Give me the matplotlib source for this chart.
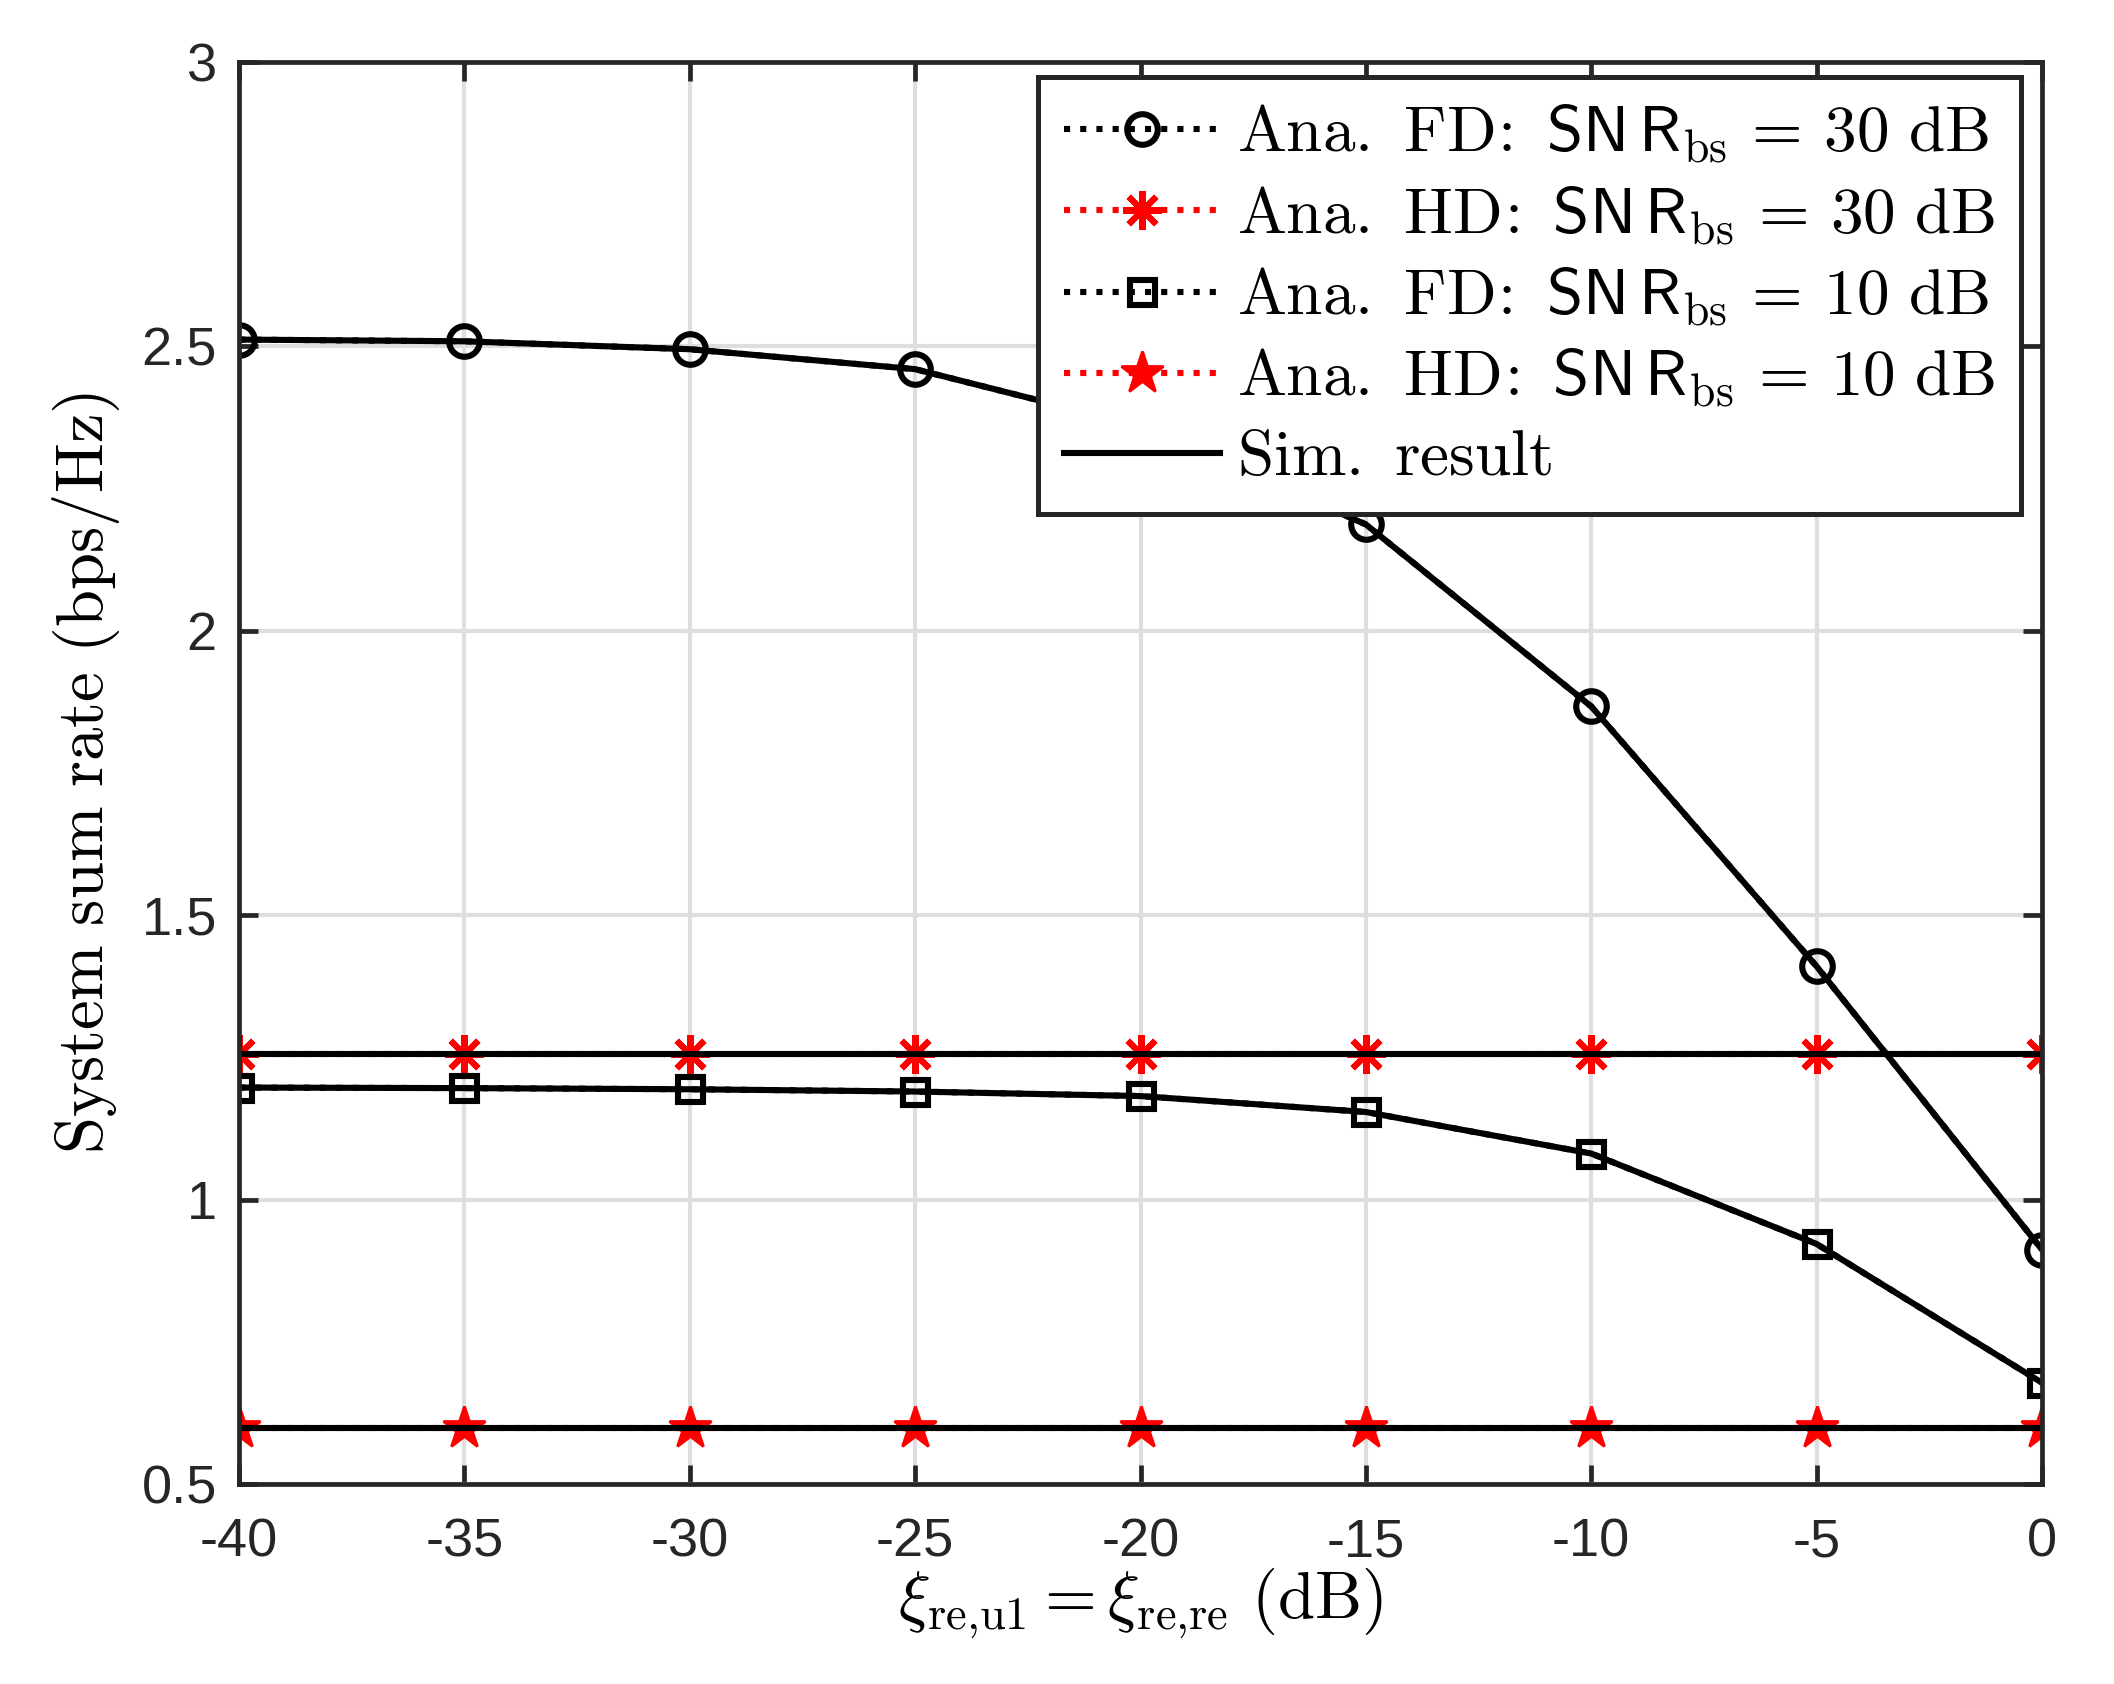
import matplotlib
matplotlib.use("Agg")
import matplotlib.pyplot as plt
import numpy as np

xi_db = [-40, -35, -30, -25, -20, -15, -10, -5, 0]
fd30_ana = [2.512, 2.509, 2.495, 2.460, 2.36, 2.187, 1.867, 1.410, 0.912]
hd30_ana = [1.256] * 9
fd10_ana = [1.197, 1.196, 1.194, 1.190, 1.182, 1.154, 1.081, 0.922, 0.678]
hd10_ana = [0.598] * 9
fd30_sim = [2.512, 2.509, 2.495, 2.460, 2.36, 2.187, 1.867, 1.410, 0.912]
hd30_sim = [1.256] * 9
fd10_sim = [1.197, 1.196, 1.194, 1.190, 1.182, 1.154, 1.081, 0.922, 0.678]
hd10_sim = [0.598] * 9

xticks = [-40, -35, -30, -25, -20, -15, -10, -5, 0]
xticklabels = ["-40", "-35", "-30", "-25", "-20", "-15", "-10", "-5", "0"]
yticks = [0.5, 1, 1.5, 2, 2.5, 3]
yticklabels = ["0.5", "1", "1.5", "2", "2.5", "3"]

labels = [
    r"$\mathrm{Ana.\ FD}\!:\ \mathsf{SN\,R}_{\mathrm{bs}}\,=\,30\ \mathrm{dB}$",
    r"$\mathrm{Ana.\ HD}\!:\ \mathsf{SN\,R}_{\mathrm{bs}}\,=\,30\ \mathrm{dB}$",
    r"$\mathrm{Ana.\ FD}\!:\ \mathsf{SN\,R}_{\mathrm{bs}}\,=\,10\ \mathrm{dB}$",
    r"$\mathrm{Ana.\ HD}\!:\ \mathsf{SN\,R}_{\mathrm{bs}}\,=\,10\ \mathrm{dB}$",
    r"$\mathrm{Sim.\ result}$",
]

plt.rcParams["mathtext.fontset"] = "cm"
plt.rcParams["font.family"] = ["Liberation Sans", "DejaVu Sans"]

W, H = 2114, 1684
fig = plt.figure(figsize=(W / 200, H / 200), dpi=200)
L, R, T, B = 239, 2042, 62, 1484
ax = fig.add_axes([L / W, 1 - B / H, (R - L) / W, (B - T) / H])

lw = 2.2
dark = "#262626"
h1, = ax.plot(xi_db, fd30_ana, linestyle=":", color="k", marker="o", markersize=11,
              markerfacecolor="none", markeredgewidth=lw, linewidth=lw)
h2, = ax.plot(xi_db, hd30_ana, linestyle=":", color="r", marker=(8, 2, 0), markersize=14,
              markerfacecolor="none", markeredgewidth=lw, linewidth=lw)
h3, = ax.plot(xi_db, fd10_ana, linestyle=":", color="k", marker="s", markersize=9,
              markerfacecolor="none", markeredgewidth=lw, linewidth=lw)
h4, = ax.plot(xi_db, hd10_ana, linestyle=":", color="r", marker="*", markersize=16,
              markerfacecolor="r", markeredgecolor="r", markeredgewidth=1.0, linewidth=lw)
h5, = ax.plot(xi_db, fd30_sim, color="k", linewidth=lw)
ax.plot(xi_db, hd30_sim, color="k", linewidth=lw)
ax.plot(xi_db, fd10_sim, color="k", linewidth=lw)
ax.plot(xi_db, hd10_sim, color="k", linewidth=lw)

ax.set_xlim(-40, 0)
ax.set_ylim(0.5, 3)
ax.set_xticks(xticks)
ax.set_xticklabels(xticklabels)
ax.set_yticks(yticks)
ax.set_yticklabels(yticklabels)
ax.tick_params(direction="in", length=7, width=1.7, labelsize=19.5, top=True, right=True,
               colors=dark)
ax.tick_params(axis="x", pad=12)
ax.tick_params(axis="y", pad=8)
ax.grid(True, color="#dedede", linewidth=1.5)
ax.set_axisbelow(True)
for s in ax.spines.values():
    s.set_linewidth(1.7)
    s.set_color(dark)

ax.set_xlabel(r"$\xi_{\mathrm{re{,}u1}}=\xi_{\mathrm{re{,}re}}\ \mathrm{(dB)}$", fontsize=24,
              labelpad=0)
ax.set_ylabel(r"$\mathrm{System\ sum\ rate\ (bps/Hz)}$", fontsize=24, labelpad=7)

leg = ax.legend([h1, h2, h3, h4, h5], labels, loc="upper right",
                bbox_to_anchor=(0.9884, 0.9895), borderaxespad=0, fontsize=23.5,
                fancybox=False, framealpha=1, edgecolor=dark, handlelength=2.4,
                handletextpad=0.25, labelspacing=0.29, borderpad=0.4)
leg.get_frame().set_linewidth(1.8)

fig.savefig("out.png", dpi=200, facecolor="white")
